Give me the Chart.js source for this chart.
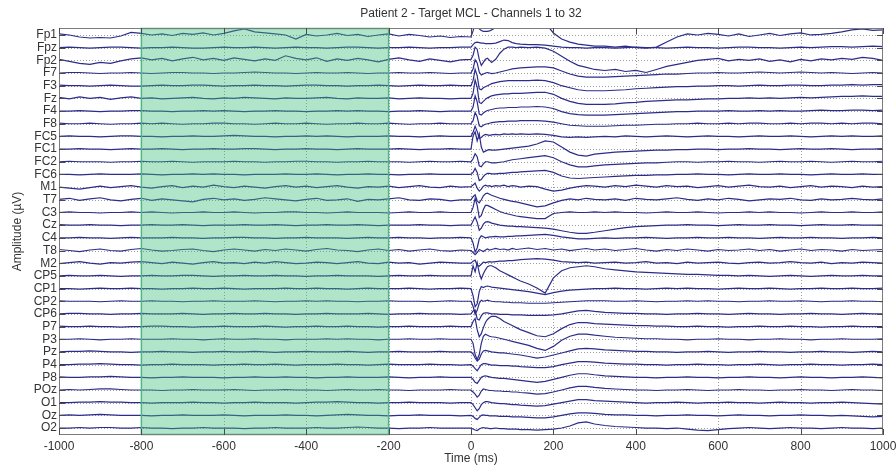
<!DOCTYPE html>
<html>
<head>
<meta charset="utf-8">
<title>Patient 2 - Target MCL</title>
<script src="https://cdn.jsdelivr.net/npm/chart.js@4.4.0/dist/chart.umd.min.js"></script>
<style>
  html, body { margin: 0; padding: 0; background: #fff; }
  #wrap { width: 896px; height: 470px; }
</style>
</head>
<body>
<div id="wrap"><canvas id="eeg" width="896" height="470"></canvas></div>
<script>
const chartTitle = 'Patient 2 - Target MCL - Channels 1 to 32';

// channel order, top to bottom
const channels = ['Fp1', 'Fpz', 'Fp2', 'F7', 'F3', 'Fz', 'F4', 'F8', 'FC5', 'FC1', 'FC2', 'FC6', 'M1', 'T7', 'C3', 'Cz',
  'C4', 'T8', 'M2', 'CP5', 'CP1', 'CP2', 'CP6', 'P7', 'P3', 'Pz', 'P4', 'P8', 'POz', 'O1', 'Oz', 'O2'];

const xTicks = [-1000, -800, -600, -400, -200, 0, 200, 400, 600, 800, 1000];

// sample times (ms), denser around the stimulus
const times = [
  -1000, -975, -950, -925, -900, -875, -850, -825, -800, -775, -750, -725, -700, -675, -650, -625, -600, -575, -550, -525,
  -500, -475, -450, -425, -400, -375, -350, -325, -300, -275, -250, -225, -200, -175, -150, -125, -100, -75, -50, -25,
  0, 5, 10, 15, 20, 25, 30, 35, 40, 45, 50, 60, 70, 80, 90, 100, 110, 120, 140, 160, 180, 200, 220, 240, 260, 280, 300,
  325, 350, 375, 400, 425, 450, 475, 500, 525, 550, 575, 600, 625, 650, 675, 700, 725, 750, 775, 800, 825, 850, 875, 900, 925, 950, 975, 1000
];

// baseline analysis window (ms)
const windowStart = -800;
const windowEnd = -200;

// amplitudes per channel (uV), one value per sample time
const fp1 = [2,0,-4,-6,-5,-6,-2,5,3,0,2,-1,3,1,4,0,3,8,12,6,4,2,0,-8,1,-2,0,3,-1,1,-3,0,2,-2,1,-1,-4,-2,-5,-3,
  -4,8,24,18,12,9,7,7,7,8,10,15,24,30,34,36,38,38,36,32,24,4,-8,-14,-18,-20,-22,
  -22,-24,-22,-25,-26,-24,-14,-4,2,0,3,1,-2,2,-3,0,3,-1,2,4,0,1,3,6,10,12,9,10];
const fpz = [0,1,0,-1,0,1,1,0,-1,0,0,1,0,-1,-1,0,1,0,0,1,0,-1,0,1,0,0,-1,0,1,1,0,-1,0,0,1,0,-1,0,0,1,
  1,6,10,11,10,9,9,8,8,8,8,9,12,15,14,10,8,7,6,6,5,3,1,0,0,-1,0,
  0,-1,0,1,0,0,-1,0,1,0,0,-1,0,1,1,0,0,-1,0,1,0,1,2,2,1,2,3,2];
const fp2 = [2,-2,-6,-8,-4,-6,-1,3,5,1,4,-1,3,6,1,4,0,5,2,-1,3,0,9,4,1,5,-2,3,0,4,1,-3,2,5,1,-2,3,0,-3,1,
  2,10,26,22,2,-10,-4,2,4,0,-4,2,14,22,26,26,25,26,25,26,24,18,8,-2,-10,-14,-18,
  -20,-18,-22,-20,-24,-18,-12,-8,-4,0,2,4,-1,2,0,3,-2,1,-3,2,-1,3,1,4,2,6,4,0];
const f7 = [0,1,1,0,-1,0,0,1,0,-1,0,1,1,0,0,-1,0,0,1,2,1,0,0,-1,0,1,0,0,1,0,-1,0,0,1,0,0,1,0,-1,0,
  0,8,26,20,2,-4,-2,0,1,0,-1,0,2,4,6,8,9,10,11,12,12,10,4,-2,-6,-8,-8,
  -8,-7,-6,-5,-4,-3,-2,-2,-1,0,0,1,0,0,1,2,1,0,1,2,1,0,1,0,-1,0,1,0];
const f3 = [1,0,0,-1,0,1,0,-1,-1,0,1,0,0,1,1,0,-1,0,0,1,0,0,-1,0,1,1,0,0,-1,0,0,1,0,-1,0,1,0,0,1,0,
  0,10,32,20,-6,-8,-4,-2,0,2,4,6,8,9,10,10,10,10,10,11,10,6,0,-4,-8,-10,-10,
  -10,-9,-8,-6,-5,-4,-3,-2,-2,-1,-1,0,0,-1,0,1,0,0,1,1,0,0,1,1,2,1,2,2];
const fz = [2,-1,3,0,2,-2,1,3,0,1,-1,0,1,2,0,-1,1,0,2,1,0,-1,1,0,0,1,2,0,-1,1,0,0,1,-1,0,1,0,0,-1,0,
  0,10,36,22,-8,-10,-6,-2,1,3,5,7,8,9,9,10,10,10,11,12,12,8,0,-6,-10,-12,-12,
  -12,-11,-9,-8,-6,-5,-4,-3,-3,-2,-1,-1,0,0,1,0,1,0,1,2,1,2,3,4,4,5,4,4];
const f4 = [0,0,1,0,-1,0,0,1,1,0,0,-1,0,0,1,0,1,0,-1,0,0,1,0,0,-1,0,0,1,0,1,0,0,-1,0,0,1,0,-1,0,0,
  0,8,30,18,-6,-8,-4,-1,1,2,3,5,6,6,7,7,7,8,8,9,8,5,-1,-5,-7,-8,-8,
  -8,-7,-6,-5,-4,-3,-2,-1,-1,0,0,0,1,0,0,1,0,1,0,0,1,2,1,1,2,2,1,2];
const f8 = [1,0,0,1,0,-1,0,0,1,0,1,0,-1,0,0,1,1,0,0,-1,0,1,0,0,1,0,-1,0,0,1,0,0,1,0,-1,0,0,1,0,0,
  0,6,22,14,-4,-6,-3,-1,0,1,2,3,4,4,5,5,5,6,6,6,5,3,0,-3,-4,-5,-5,
  -5,-4,-3,-3,-2,-1,-1,0,0,1,0,0,1,0,1,1,0,0,1,0,1,1,0,1,0,1,1,0];
const fc5 = [0,1,0,0,-1,0,1,1,0,0,-1,0,0,1,0,0,1,2,1,0,0,-1,0,0,1,0,1,0,-1,0,0,0,1,0,0,-1,0,1,0,0,
  0,8,20,10,-4,-2,2,4,3,2,3,4,3,5,4,5,4,5,4,5,4,2,-1,-2,-1,-2,-1,
  0,-1,1,0,-1,0,1,0,-1,0,1,0,0,-1,0,1,0,0,1,0,-1,0,1,0,1,0,0,1];
const fc1 = [0,0,1,0,0,-1,0,1,0,0,1,0,-1,0,0,1,0,0,1,1,0,-1,0,0,1,0,0,-1,0,1,0,0,0,1,0,-1,0,0,1,0,
  0,26,34,16,30,4,-6,-4,-2,-1,-2,-2,-1,0,1,2,3,4,6,10,16,14,4,-6,-12,-14,-10,
  -8,-6,-5,-4,-3,-2,-2,-1,-1,0,0,-1,0,0,1,0,0,-1,0,1,0,0,1,0,-1,0,0,1];
const fc2 = [0,1,0,0,0,-1,0,0,1,0,0,1,0,-1,0,0,0,1,0,0,-1,0,0,1,1,0,0,-1,0,0,1,0,0,0,-1,0,1,0,0,1,
  0,6,16,10,-8,-10,-4,0,0,-1,-2,-2,-1,0,2,4,5,6,8,10,12,8,0,-6,-10,-10,-8,
  -6,-5,-4,-3,-2,-2,-1,0,0,-1,0,0,1,0,0,-1,0,1,0,0,1,0,-1,0,1,0,0,1];
const fc6 = [0,0,-1,0,1,0,0,0,1,0,-1,0,0,1,0,1,0,0,-1,0,0,0,1,0,0,1,0,-1,0,0,1,0,0,-1,0,0,1,0,0,0,
  0,4,12,4,-12,-10,-4,0,2,2,1,1,2,2,3,4,4,5,6,7,8,4,-3,-7,-8,-7,-6,
  -5,-4,-3,-2,-2,-1,-1,0,0,1,0,0,-1,0,1,0,0,1,0,0,-1,0,1,0,0,1,0,0];
const m1 = [0,-2,-4,-1,2,-1,1,3,0,-2,1,3,-1,2,0,4,1,-1,2,0,-2,1,3,0,2,-1,1,3,0,-2,1,0,2,-1,1,3,0,-1,2,0,
  1,4,8,-2,-8,-4,2,4,2,3,1,3,2,4,1,3,2,0,2,1,-4,-8,-6,-2,1,3,2,
  0,3,1,4,2,0,3,1,2,-1,1,3,0,2,4,1,0,2,-1,1,3,0,2,1,-1,2,0,1];
const t7 = [1,3,-1,2,4,0,-2,1,3,-1,2,0,-2,-4,1,3,0,2,-1,1,4,2,0,-2,1,3,-1,0,2,-3,1,0,2,4,0,-1,2,1,-2,0,
  0,6,10,-2,-6,0,8,12,13,11,9,6,3,1,-1,-3,-4,-6,-10,-14,-12,-6,-1,2,0,3,1,
  0,2,-1,3,1,0,2,4,1,-1,2,0,3,1,-2,0,2,1,3,0,-1,2,0,1,3,1,0,2];
const c3 = [0,1,0,0,-1,0,0,1,0,1,0,-1,0,0,1,0,0,1,0,-1,0,0,1,1,0,0,-1,0,1,0,0,0,-1,0,1,0,0,1,0,0,
  0,10,28,14,-10,-6,6,14,14,12,10,6,2,-1,-3,-5,-7,-8,-10,-12,-12,-2,0,1,0,0,1,
  0,1,0,0,-1,0,1,0,0,1,0,-1,0,0,1,0,1,0,0,-1,0,1,0,0,1,0,0,1];
const cz = [1,0,0,1,0,0,-1,0,0,1,0,0,1,0,-1,0,0,0,1,0,0,1,0,-1,0,0,1,0,0,1,0,-1,0,0,0,1,0,0,-1,0,
  0,8,16,6,-10,-6,2,6,7,6,4,2,0,-1,-2,-2,-3,-3,-4,-5,-6,-8,-11,-14,-16,-16,-14,
  -11,-8,-5,-3,-2,-1,0,0,1,0,0,-1,0,1,0,0,1,0,0,-1,0,1,0,0,1,0,0,0];
const c4 = [0,0,1,0,0,-1,0,1,0,0,0,1,0,0,-1,0,0,1,1,0,0,-1,0,0,1,0,0,0,-1,0,1,0,0,1,0,0,-1,0,0,1,
  0,-10,-28,-20,-2,4,2,0,1,2,2,3,2,2,3,3,4,4,5,6,7,5,2,0,-2,-2,-1,
  0,-1,0,0,1,0,-1,0,0,1,0,0,1,0,0,-1,0,1,0,0,1,0,0,-1,0,0,1,0];
const t8 = [2,0,-2,1,3,0,-1,2,4,1,-1,0,2,3,0,-2,1,3,1,-1,2,0,3,1,-1,2,4,1,0,-2,1,3,0,2,-1,1,3,0,-1,1,
  0,-4,-8,-4,2,0,-2,1,3,1,2,4,2,3,1,4,2,3,5,2,4,1,3,0,2,4,1,
  3,0,2,4,1,-1,2,0,3,1,-1,2,0,1,3,0,2,-1,1,3,0,2,1,-1,2,0,1,2];
const m2 = [-1,1,3,0,-2,1,0,2,3,1,-1,2,0,-2,1,3,0,1,-1,2,0,3,1,-1,0,2,1,-1,1,3,0,-1,2,0,1,-2,0,2,1,0,
  0,4,6,-4,-6,-2,2,1,2,3,2,3,4,4,5,5,6,7,8,9,8,6,3,2,1,2,0,
  1,2,0,1,3,0,1,-1,2,0,1,2,0,-1,1,2,0,1,3,1,0,2,-1,1,0,2,1,0];
const cp5 = [0,1,0,0,1,0,-1,0,0,1,0,0,1,1,0,-1,0,0,1,0,0,1,0,0,-1,0,0,1,0,0,0,-1,0,1,0,0,1,0,0,0,
  0,20,8,26,6,-6,4,12,18,20,20,16,10,6,2,-2,-6,-10,-16,-24,-34,-4,10,16,18,20,18,
  14,12,10,8,7,6,5,4,3,3,2,1,1,0,1,0,-1,0,1,0,-1,0,1,0,0,1,0,0];
const cp1 = [0,0,-1,0,1,0,0,1,0,0,-1,0,0,1,0,0,1,0,-1,0,0,0,1,0,0,1,0,0,-1,0,1,0,0,0,1,0,-1,0,0,1,
  0,-14,-36,-30,-6,4,2,4,5,4,3,2,1,0,-1,-2,-3,-4,-6,-9,-12,-8,-5,-3,-2,-1,0,
  0,1,0,0,-1,0,1,0,1,0,0,-1,0,1,0,0,1,0,-1,0,0,1,0,0,1,0,0,1];
const cp2 = [1,0,0,0,-1,0,1,0,0,1,0,0,-1,0,0,1,0,0,0,1,0,-1,0,0,1,0,1,0,0,-1,0,0,1,0,0,0,-1,0,1,0,
  0,-10,-26,-18,-4,2,0,1,2,1,0,-1,-1,-2,-2,-3,-3,-3,-4,-4,-4,-3,-2,-1,0,1,1,
  1,0,0,1,0,-1,0,0,1,0,1,0,0,-1,0,0,1,0,0,1,0,-1,0,0,1,0,0,-1];
const cp6 = [0,1,1,0,0,-1,0,0,1,0,0,0,1,0,-1,0,0,1,0,0,1,0,0,-1,0,0,1,0,0,0,1,0,-1,0,0,1,0,0,0,-1,
  0,6,8,-10,-12,-4,1,2,2,1,0,0,-1,-1,-1,-2,-2,-2,-3,-3,-3,-2,0,3,6,7,5,
  3,2,1,1,0,0,-1,0,0,1,0,0,-1,0,1,0,0,-1,0,0,1,0,0,-1,0,1,0,0];
const p7 = [1,0,0,1,0,0,-1,0,0,1,1,0,0,-1,0,0,1,0,0,0,1,0,-1,0,0,1,0,0,1,0,0,-1,0,0,1,0,0,0,1,0,
  0,10,16,-6,-20,-14,-2,8,14,18,20,20,16,10,6,2,-2,-6,-12,-18,-20,-14,-4,4,8,8,6,
  5,4,3,2,2,1,1,0,0,1,0,0,-1,0,0,1,0,0,1,0,0,-1,0,0,1,0,0,0];
const p3 = [0,0,1,0,-1,0,0,1,0,0,0,1,0,0,-1,0,1,0,0,1,0,0,-1,0,0,0,1,0,1,0,0,-1,0,0,1,0,0,1,0,0,
  0,-8,-30,-40,-30,-8,6,10,8,6,5,4,2,0,-2,-4,-6,-8,-12,-18,-22,-14,-2,6,10,10,8,
  6,4,3,2,1,1,0,0,-1,0,0,1,0,0,-1,0,0,1,0,0,-1,0,0,1,0,0,0,1];
const pz = [0,1,1,2,1,0,0,-1,0,0,1,0,0,-1,0,0,1,0,0,1,0,-1,0,0,1,0,0,0,1,0,-1,0,0,1,0,0,0,1,0,0,
  0,-4,-12,-18,-14,-4,2,3,2,1,0,-1,-2,-2,-3,-4,-5,-6,-9,-12,-10,-6,-2,2,6,7,6,
  4,3,2,1,1,0,0,-1,0,0,1,0,-1,0,0,1,0,0,-1,0,0,1,0,0,-1,0,1,0];
const p4 = [0,0,1,1,2,1,0,0,-1,0,0,1,0,0,0,-1,0,0,1,0,0,1,0,-1,0,0,0,1,0,0,-1,0,1,0,0,0,1,0,0,-1,
  0,-3,-8,-12,-6,0,2,2,1,0,-1,-1,-2,-2,-2,-3,-3,-4,-5,-6,-6,-4,0,3,6,6,5,
  3,2,1,1,0,0,-1,0,0,1,0,0,-1,0,0,1,0,-1,0,0,1,0,0,-1,0,0,1,0];
const p8 = [1,0,0,1,1,2,1,0,0,-1,0,0,1,0,0,0,-1,0,0,1,0,0,1,0,0,-1,0,0,1,0,0,0,1,0,-1,0,0,1,0,0,
  0,-4,-10,-12,-6,0,2,3,2,1,0,-1,-2,-2,-3,-4,-5,-6,-8,-10,-8,-4,0,4,7,7,5,
  3,2,1,0,0,-1,0,0,1,0,0,-1,0,0,1,0,0,-1,0,1,0,0,-1,0,0,1,0,-1];
const poz = [0,1,0,1,2,2,1,0,0,0,-1,0,0,1,0,0,0,1,0,-1,0,0,1,0,0,0,-1,0,1,0,0,1,0,0,-1,0,0,0,1,0,
  0,-4,-8,-14,-10,-2,2,1,0,-1,-1,-2,-2,-3,-3,-4,-4,-5,-6,-8,-7,-4,0,4,7,7,5,
  3,2,1,0,0,-1,0,0,1,0,-1,0,0,1,0,0,-1,0,0,1,0,0,-1,0,1,0,0,-1];
const o1 = [0,0,1,1,2,1,1,0,0,-1,0,0,0,1,0,0,-1,0,0,1,0,0,0,-1,0,1,1,2,1,0,0,-1,0,0,1,0,0,0,-1,0,
  0,-4,-10,-16,-12,-4,0,2,2,1,0,-1,-2,-2,-3,-4,-4,-5,-6,-7,-6,-3,0,3,6,6,4,
  3,2,1,0,-1,0,0,1,0,-1,0,0,1,0,0,-1,0,1,0,0,-1,0,0,1,0,-1,-2,-3];
const oz = [0,1,0,1,2,1,0,0,0,-1,0,0,1,0,0,0,1,0,-1,0,0,0,1,0,0,-1,0,1,2,1,0,0,-1,0,0,1,0,0,0,-1,
  0,-2,-6,-8,-4,0,1,0,0,-1,-1,-1,-2,-2,-2,-3,-3,-3,-4,-5,-5,-3,0,3,5,5,4,
  2,1,1,0,0,-1,0,0,1,0,0,-1,0,1,0,0,-1,0,0,1,0,0,-1,0,-1,-2,-3,-2];
const o2 = [0,0,1,0,1,1,0,0,1,0,0,-1,0,0,1,0,0,0,-1,0,0,1,0,0,0,1,0,0,1,2,1,0,0,-1,0,0,1,0,0,0,
  0,-2,-4,-5,-2,0,1,0,0,-1,-1,0,-1,-1,-2,-2,-2,-3,-3,-4,-3,-2,0,4,10,12,8,
  5,3,2,1,0,0,-1,0,-2,-4,-5,-3,-1,0,1,0,-1,0,1,0,0,-1,0,1,0,0,-1,0];

const traces = [fp1, fpz, fp2, f7, f3, fz, f4, f8, fc5, fc1, fc2, fc6, m1, t7, c3, cz,
  c4, t8, m2, cp5, cp1, cp2, cp6, p7, p3, pz, p4, p8, poz, o1, oz, o2];

const SPACING = 25;          // uV between stacked channels
const TRACE_COLOR = '#2c2c8a';
const FONT = '"Liberation Sans", Arial, Helvetica, sans-serif';

const offsetOf = (i) => (channels.length - 1 - i) * SPACING;

traces.forEach((tr, i) => {
  if (tr.length !== times.length) console.error(channels[i] + ': ' + tr.length + ' samples');
});

const datasets = channels.map((name, i) => ({
  label: name,
  data: times.map((t, j) => ({ x: t, y: offsetOf(i) + traces[i][j] })),
  borderColor: TRACE_COLOR,
  borderWidth: 1.2,
  pointRadius: 0,
  tension: 0,
  fill: false
}));

// grid, shaded window, box, inward ticks and a title centred over the axes
const eegFrame = {
  id: 'eegFrame',
  beforeDatasetsDraw(chart) {
    const { ctx, chartArea: a, scales: { x, y } } = chart;
    ctx.save();
    ctx.strokeStyle = '#9c9c9c';
    ctx.lineWidth = 1;
    ctx.setLineDash([1, 2]);
    ctx.beginPath();
    xTicks.forEach(t => {
      if (t <= xTicks[0] || t >= xTicks[xTicks.length - 1]) return;
      const px = Math.round(x.getPixelForValue(t)) + 0.5;
      ctx.moveTo(px, a.top);
      ctx.lineTo(px, a.bottom);
    });
    channels.forEach((c, i) => {
      const py = Math.round(y.getPixelForValue(offsetOf(i))) + 0.5;
      ctx.moveTo(a.left, py);
      ctx.lineTo(a.right, py);
    });
    ctx.stroke();
    ctx.restore();
  },
  afterDatasetsDraw(chart) {
    const { ctx, chartArea: a, scales: { x, y } } = chart;
    ctx.save();
    const x0 = x.getPixelForValue(windowStart);
    const x1 = x.getPixelForValue(windowEnd);
    ctx.fillStyle = 'rgba(60, 190, 120, 0.4)';
    ctx.fillRect(x0, a.top, x1 - x0, a.bottom - a.top);
    ctx.strokeStyle = '#52b383';
    ctx.lineWidth = 1.5;
    ctx.strokeRect(x0, a.top + 0.5, x1 - x0, a.bottom - a.top - 1);

    ctx.strokeStyle = '#7c7c7c';
    ctx.lineWidth = 1;
    ctx.strokeRect(Math.round(a.left) + 0.5, Math.round(a.top) + 0.5,
      Math.round(a.right - a.left) - 1, Math.round(a.bottom - a.top) - 1);

    ctx.strokeStyle = '#4a4a4a';
    ctx.beginPath();
    xTicks.forEach(t => {
      const px = Math.round(x.getPixelForValue(t)) + 0.5;
      ctx.moveTo(px, a.bottom);
      ctx.lineTo(px, a.bottom - 6);
      ctx.moveTo(px, a.top);
      ctx.lineTo(px, a.top + 6);
    });
    channels.forEach((c, i) => {
      const py = Math.round(y.getPixelForValue(offsetOf(i))) + 0.5;
      ctx.moveTo(a.left, py);
      ctx.lineTo(a.left + 6, py);
      ctx.moveTo(a.right, py);
      ctx.lineTo(a.right - 6, py);
    });
    ctx.stroke();

    ctx.fillStyle = '#333';
    ctx.font = '12px ' + FONT;
    ctx.textAlign = 'center';
    ctx.textBaseline = 'middle';
    ctx.fillText(chartTitle, (a.left + a.right) / 2, 13.5);
    ctx.restore();
  }
};

Chart.defaults.font.family = FONT;
Chart.defaults.color = '#333';

new Chart(document.getElementById('eeg'), {
  type: 'line',
  data: { datasets },
  options: {
    responsive: false,
    devicePixelRatio: 1,
    animation: false,
    events: [],
    layout: { padding: { left: 0, right: 13, top: 28, bottom: 0 } },
    plugins: {
      legend: { display: false },
      tooltip: { enabled: false },
      title: { display: false }
    },
    scales: {
      x: {
        type: 'linear',
        min: xTicks[0],
        max: xTicks[xTicks.length - 1],
        afterBuildTicks: (scale) => { scale.ticks = xTicks.map(v => ({ value: v })); },
        afterFit: (scale) => {
          scale.height = 35;
          scale.paddingRight = 0;
        },
        ticks: { font: { size: 12 }, padding: 4, maxRotation: 0, autoSkip: false, callback: (v) => String(v) },
        grid: { display: false, drawTicks: false },
        border: { display: false },
        title: { display: true, text: 'Time (ms)', font: { size: 12 }, padding: { top: 0, bottom: 4 } }
      },
      y: {
        type: 'linear',
        min: -0.55 * SPACING,
        max: (channels.length - 0.45) * SPACING,
        afterBuildTicks: (scale) => { scale.ticks = channels.map((c, i) => ({ value: offsetOf(i) })); },
        afterFit: (scale) => { scale.width = 59; },
        ticks: {
          font: { size: 12 },
          padding: 2,
          autoSkip: false,
          callback: (v) => channels[channels.length - 1 - Math.round(v / SPACING)]
        },
        grid: { display: false, drawTicks: false },
        border: { display: false },
        title: { display: true, text: 'Amplitude (\u00b5V)', font: { size: 12 }, padding: { top: 10, bottom: 0 } }
      }
    }
  },
  plugins: [eegFrame]
});
</script>
</body>
</html>
